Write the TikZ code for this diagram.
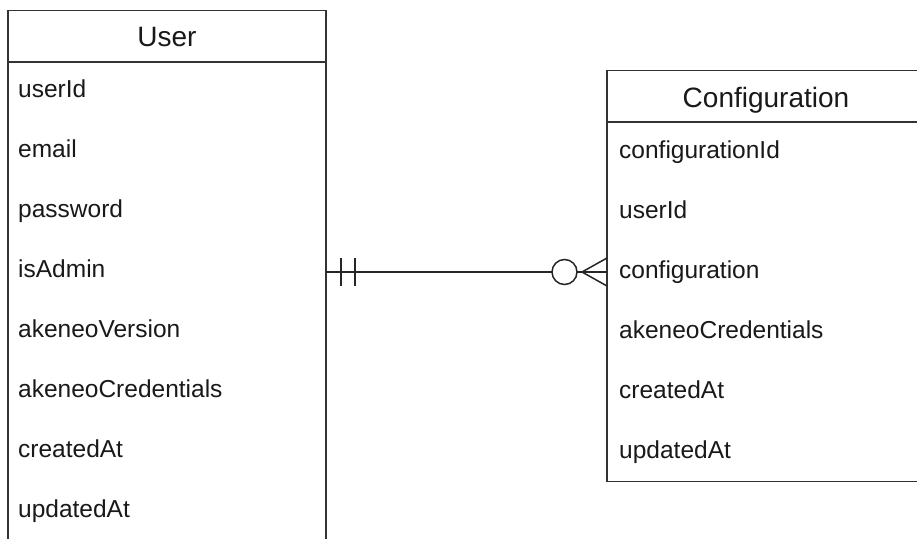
\documentclass[tikz,border=0pt]{standalone}
\usepackage{fontspec}
\setmainfont{Liberation Sans}
\begin{document}
\begin{tikzpicture}[x=1pt,y=-1pt,
  edge/.style={draw=black!80,line width=1.5pt},
  title/.style={font=\fontsize{28}{31}\selectfont,text=black!90,inner sep=0pt,anchor=base},
  attr/.style={font=\fontsize{24.5}{27}\selectfont,text=black!90,anchor=base west,inner sep=0pt},
  link/.style={draw=black!85,line width=1.5pt}]
\useasboundingbox (0,0) rectangle (917,538);
\clip (0,0) rectangle (917,538);
\fill[white] (0,0) rectangle (917,538);

% User entity
\draw[edge] (8,10.5) rectangle (326,560);
\draw[edge] (8,62) -- (326,62);
\node[title] (user) at (167,46.5) {User};
\node[attr] (u1) at (18,97) {userId};
\node[attr] (u2) at (18,157) {email};
\node[attr] (u3) at (18,217) {password};
\node[attr] (u4) at (18,277) {isAdmin};
\node[attr] (u5) at (18,337) {akeneoVersion};
\node[attr] (u6) at (18,397) {akeneoCredentials};
\node[attr] (u7) at (18,457) {createdAt};
\node[attr] (u8) at (18,517) {updatedAt};

% Configuration entity
\draw[edge] (607,70.5) rectangle (930,481.5);
\draw[edge] (607,122) -- (930,122);
\node[title] (conf) at (766,107) {Configuration};
\node[attr] (c1) at (619,158) {configurationId};
\node[attr] (c2) at (619,218) {userId};
\node[attr] (c3) at (619,278) {configuration};
\node[attr] (c4) at (619,338) {akeneoCredentials};
\node[attr] (c5) at (619,398) {createdAt};
\node[attr] (c6) at (619,458) {updatedAt};

% One-and-only-one to zero-or-many relationship
\coordinate (a) at (326,272);
\coordinate (b) at (552,272);
\coordinate (o) at (564.5,272);
\coordinate (v) at (582,272);
\coordinate (e) at (607,272);
\draw[link] (a) -- (b);
\draw[link] (341,258) -- (341,286);
\draw[link] (355,258) -- (355,286);
\draw[link,fill=white] (o) circle (12.5);
\draw[link] (577,272) -- (e);
\draw[link] (607,258) -- (v) -- (607,286);
\end{tikzpicture}
\end{document}
